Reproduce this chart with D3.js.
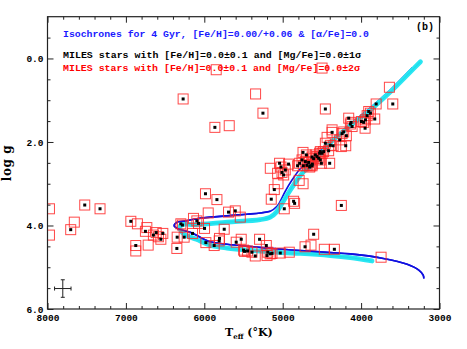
<!DOCTYPE html>
<html><head><meta charset="utf-8">
<script src="https://cdn.jsdelivr.net/npm/d3@7"></script>
<style>body{margin:0;background:#fff}svg{display:block}</style>
</head><body><svg id="c" width="467" height="349"></svg>
<script>
// ---------- data ----------
const teffMajor = [8000, 7000, 6000, 5000, 4000, 3000];
const loggMajor = [0, 2, 4, 6];
const legendLines = [
  "Isochrones for 4 Gyr, [Fe/H]=0.00/+0.06 & [α/Fe]=0.0",
  "MILES stars with [Fe/H]=0.0±0.1 and [Mg/Fe]=0.0±1σ",
  "MILES stars with [Fe/H]=0.0±0.1 and [Mg/Fe]=0.0±2σ"
];
const panelLabel = "(b)";
// blue isochrone: lower MS end -> turnoff hook -> subgiant -> RGB tip
const isoBlue = [
  [3200,5.27],[3208,5.19],[3264,5.07],[3412,4.93],[3716,4.79],[4138,4.68],[4392,4.65],
  [4775,4.60],[5000,4.57],[5376,4.51],[5711,4.45],[5925,4.39],[6180,4.16],[6333,4.08],
  [6384,4.01],[6346,3.92],[6244,3.89],[6138,3.85],[5925,3.80],[5711,3.77],[5456,3.73],
  [5286,3.70],[5158,3.66],[5073,3.54],[5031,3.42],[4967,3.18],[4877,2.90],[4775,2.64],
  [4648,2.45],[4393,1.98],[4138,1.57],[3881,1.18],[3626,0.75],[3345,0.22]
];
// cyan isochrone band
const isoCyan = [
  [3860,4.85],[4138,4.77],[4392,4.72],[4775,4.67],[5000,4.65],[5376,4.60],[5711,4.54],
  [5925,4.47],[6100,4.33],[6250,4.22],[6300,4.12],[6310,4.02],[6250,3.97],[6139,3.98],
  [5707,3.92],[5286,3.86],[5158,3.80],[5080,3.68],[5009,3.47],[4903,3.15],[4817,2.91],
  [4733,2.71],[4626,2.55],[4393,2.02],[4138,1.61],[3881,1.23],[3626,0.80],[3371,0.32],[3243,0.08]
];
// stars within 1 sigma (black dot + red square)
const stars1s = [
  [7525,3.51],[7330,3.60],[7704,4.10],[6937,3.90],[6751,4.14],[6614,4.17],[6649,4.23],
  [6529,4.19],[6554,4.33],[6874,4.48],[6350,4.55],[6299,3.96],[6279,3.99],[6346,4.28],
  [6257,4.28],[6150,4.19],[6095,3.89],[6074,3.95],[5997,4.07],[5980,4.41],[5874,4.48],
  [5985,3.24],[5839,3.38],[5806,4.31],[5810,4.37],[5746,4.09],[5691,3.68],[5605,3.65],
  [5593,4.40],[5529,4.33],[5499,4.59],[5487,4.62],[5448,4.61],[5392,4.64],[5350,4.73],
  [5295,4.33],[5209,4.48],[5190,4.64],[5160,4.68],[5200,4.72],[5137,4.67],[5031,4.66],
  [5146,3.37],[5107,3.14],[4980,3.60],[4861,3.42],[4848,3.47],[4715,4.51],[4605,4.21],
  [4341,4.57],[4252,3.52],[6270,0.97],[5252,1.31],[5865,1.65],
  [3808,1.09],[3596,1.09],[4456,1.21],[4158,1.43],[4128,1.53],[3903,1.27],[3881,1.31],
  [3923,1.37],[3945,1.47],[3996,1.51],[3967,1.53],[3826,1.45],[3949,1.67],[4370,1.77],
  [4222,1.76],[4243,1.80],[4188,1.85],[4273,1.95],[4196,2.09],[4392,2.08],[4357,2.09],
  [4456,2.03],[4414,2.21],[4520,2.23],[4498,2.27],[4562,2.35],[4541,2.39],[4520,2.43],
  [4741,2.25],[4698,2.31],[4754,2.43],[4711,2.47],[4669,2.49],[4626,2.57],[4656,2.60],
  [4784,2.51],[4810,2.57],[4737,2.57],[4925,2.53],[5040,2.51],[5022,2.60],[5009,2.73],
  [4988,2.79],[4967,2.67],[4401,2.51],[4507,2.51],[4626,2.36],[4605,2.40],[4690,2.56],
  [4648,2.57],[4622,2.53],[4584,2.31],[4529,2.27],[4478,2.23],[4137,1.57],[4115,1.63]
];
// stars only within 2 sigma (red square only)
const stars2s = [
  [7975,3.60],[7975,4.23],[7658,3.92],[6853,3.96],[6733,4.05],[6716,4.47],[6874,4.61],
  [6585,4.27],[5950,3.70],[6138,3.83],[5541,3.80],[4916,4.64],[4639,4.47],[4469,4.57],
  [3745,4.76],[3639,0.69],[5848,0.27],[4498,0.23],[5346,0.85],[5682,1.61],[4434,1.89],
  [4252,2.11],[4370,1.71],[5065,2.75],[5158,2.63],[4790,2.92],[4740,3.00],[5060,3.00]
];
const errorBar = {teff: 7805, logg: 5.51, dTeff: 105, dLogg: 0.21};

// ---------- chart ----------
const svg = d3.select("#c");
const x = d3.scaleLinear().domain([8000, 3000]).range([47.5, 439.5]);
const y = d3.scaleLinear().domain([-1, 6]).range([16.7, 309]);
const X0 = x.range()[0], X1 = x.range()[1], Y0 = y.range()[0], Y1 = y.range()[1];
const axisColor = "#222";
const tickFont = "'Liberation Mono', monospace";

svg.append("clipPath").attr("id", "pc").append("rect")
  .attr("x", X0).attr("y", Y0).attr("width", X1 - X0).attr("height", Y1 - Y0);

const teffMinor = d3.range(8000, 2999, -200).filter(v => !teffMajor.includes(v));
const loggMinor = d3.range(-1, 6.01, 0.5).filter(v => !loggMajor.includes(v) && v > -1 && v < 6);

function styleAxis(g) {
  g.select(".domain").remove();
  g.selectAll("line").attr("stroke", axisColor);
  g.selectAll("text").attr("font-family", tickFont).attr("font-weight", "bold")
    .attr("font-size", 9.5).attr("fill", "#000");
}
// bottom
svg.append("g").attr("transform", `translate(0,${Y1})`)
  .call(d3.axisBottom(x).tickValues(teffMajor).tickSize(-6).tickPadding(5).tickFormat(d3.format("d"))).call(styleAxis);
svg.append("g").attr("transform", `translate(0,${Y1})`)
  .call(d3.axisBottom(x).tickValues(teffMinor).tickSize(-3).tickFormat("")).call(styleAxis);
// top
svg.append("g").attr("transform", `translate(0,${Y0})`)
  .call(d3.axisTop(x).tickValues(teffMajor).tickSize(-6).tickFormat("")).call(styleAxis);
svg.append("g").attr("transform", `translate(0,${Y0})`)
  .call(d3.axisTop(x).tickValues(teffMinor).tickSize(-3).tickFormat("")).call(styleAxis);
// left
svg.append("g").attr("transform", `translate(${X0},0)`)
  .call(d3.axisLeft(y).tickValues(loggMajor).tickSize(-6).tickPadding(4).tickFormat(d3.format(".1f"))).call(styleAxis);
svg.append("g").attr("transform", `translate(${X0},0)`)
  .call(d3.axisLeft(y).tickValues(loggMinor).tickSize(-3).tickFormat("")).call(styleAxis);
// right
svg.append("g").attr("transform", `translate(${X1},0)`)
  .call(d3.axisRight(y).tickValues(loggMajor).tickSize(-6).tickFormat("")).call(styleAxis);
svg.append("g").attr("transform", `translate(${X1},0)`)
  .call(d3.axisRight(y).tickValues(loggMinor).tickSize(-3).tickFormat("")).call(styleAxis);

// isochrones
const line = d3.line().x(d => x(d[0])).y(d => y(d[1])).curve(d3.curveCatmullRom.alpha(0.5));
const plot = svg.append("g").attr("clip-path", "url(#pc)");
plot.append("path").datum(isoBlue).attr("d", line).attr("fill", "none")
  .attr("stroke", "#1010e0").attr("stroke-width", 1.6);
plot.append("path").datum(isoCyan).attr("d", line).attr("fill", "none")
  .attr("stroke", "#2ae6f2").attr("stroke-width", 4.8).attr("stroke-linecap", "round");
plot.append("path").datum(isoCyan).attr("d", line).attr("fill", "none")
  .attr("stroke", "#14d8e6").attr("stroke-width", 1.2).attr("stroke-opacity", 0.6);
plot.append("path").datum(isoBlue.filter(d => d[1] > 3.6)).attr("d", line).attr("fill", "none")
  .attr("stroke", "#1010e0").attr("stroke-width", 1.6);

// stars
const S = 10, D = 3;
const allStars = stars1s.concat(stars2s);
plot.append("g").selectAll("rect").data(allStars).join("rect")
  .attr("x", d => x(d[0]) - S / 2).attr("y", d => y(d[1]) - S / 2)
  .attr("width", S).attr("height", S).attr("fill", "none")
  .attr("stroke", "#ff2828").attr("stroke-opacity", 0.85).attr("stroke-width", 1);
plot.append("g").selectAll("rect").data(stars1s).join("rect")
  .attr("x", d => x(d[0]) - D / 2).attr("y", d => y(d[1]) - D / 2)
  .attr("width", D).attr("height", D).attr("fill", "#000");

// error bar
const eb = svg.append("g").attr("stroke", "#222").attr("stroke-width", 1);
const ex = x(errorBar.teff), ey = y(errorBar.logg);
const exl = x(errorBar.teff + errorBar.dTeff), exr = x(errorBar.teff - errorBar.dTeff);
const eyt = y(errorBar.logg - errorBar.dLogg), eyb = y(errorBar.logg + errorBar.dLogg);
eb.append("line").attr("x1", exl).attr("x2", exr).attr("y1", ey).attr("y2", ey);
eb.append("line").attr("x1", ex).attr("x2", ex).attr("y1", eyt).attr("y2", eyb);
eb.append("line").attr("x1", exl).attr("x2", exl).attr("y1", ey - 2).attr("y2", ey + 2);
eb.append("line").attr("x1", exr).attr("x2", exr).attr("y1", ey - 2).attr("y2", ey + 2);
eb.append("line").attr("x1", ex - 2).attr("x2", ex + 2).attr("y1", eyt).attr("y2", eyt);
eb.append("line").attr("x1", ex - 2).attr("x2", ex + 2).attr("y1", eyb).attr("y2", eyb);

// frame
svg.append("rect").attr("x", X0).attr("y", Y0).attr("width", X1 - X0).attr("height", Y1 - Y0)
  .attr("fill", "none").attr("stroke", axisColor).attr("stroke-width", 1.2);

// legend texts
const legendColors = ["#1a1aff", "#000", "#ff0000"];
const legendY = [36.5, 57.5, 70.5];
const legendW = [306, 298, 297];
legendLines.forEach((t, i) => {
  svg.append("text").attr("x", 63).attr("y", legendY[i])
    .attr("font-family", tickFont).attr("font-weight", "bold").attr("font-size", 9.8)
    .attr("fill", legendColors[i]).attr("textLength", legendW[i])
    .attr("lengthAdjust", "spacingAndGlyphs").text(t);
});
svg.append("text").attr("x", 416).attr("y", 30).attr("font-family", tickFont)
  .attr("font-weight", "bold").attr("font-size", 10).attr("fill", "#000").text(panelLabel);

// axis titles
svg.append("text").attr("transform", "translate(11,163) rotate(-90)")
  .attr("text-anchor", "middle").attr("font-family", "'DejaVu Serif', serif")
  .attr("font-weight", "bold").attr("font-size", 12).attr("letter-spacing", 0.6).text("log g");
const xt = svg.append("text").attr("x", 225).attr("y", 336)
  .attr("font-family", "'DejaVu Serif', serif").attr("font-weight", "bold").attr("font-size", 11);
xt.append("tspan").text("T");
xt.append("tspan").attr("font-size", 7).attr("dy", 3).text("eff");
xt.append("tspan").attr("dy", -3).text(" (°K)");
</script></body></html>
